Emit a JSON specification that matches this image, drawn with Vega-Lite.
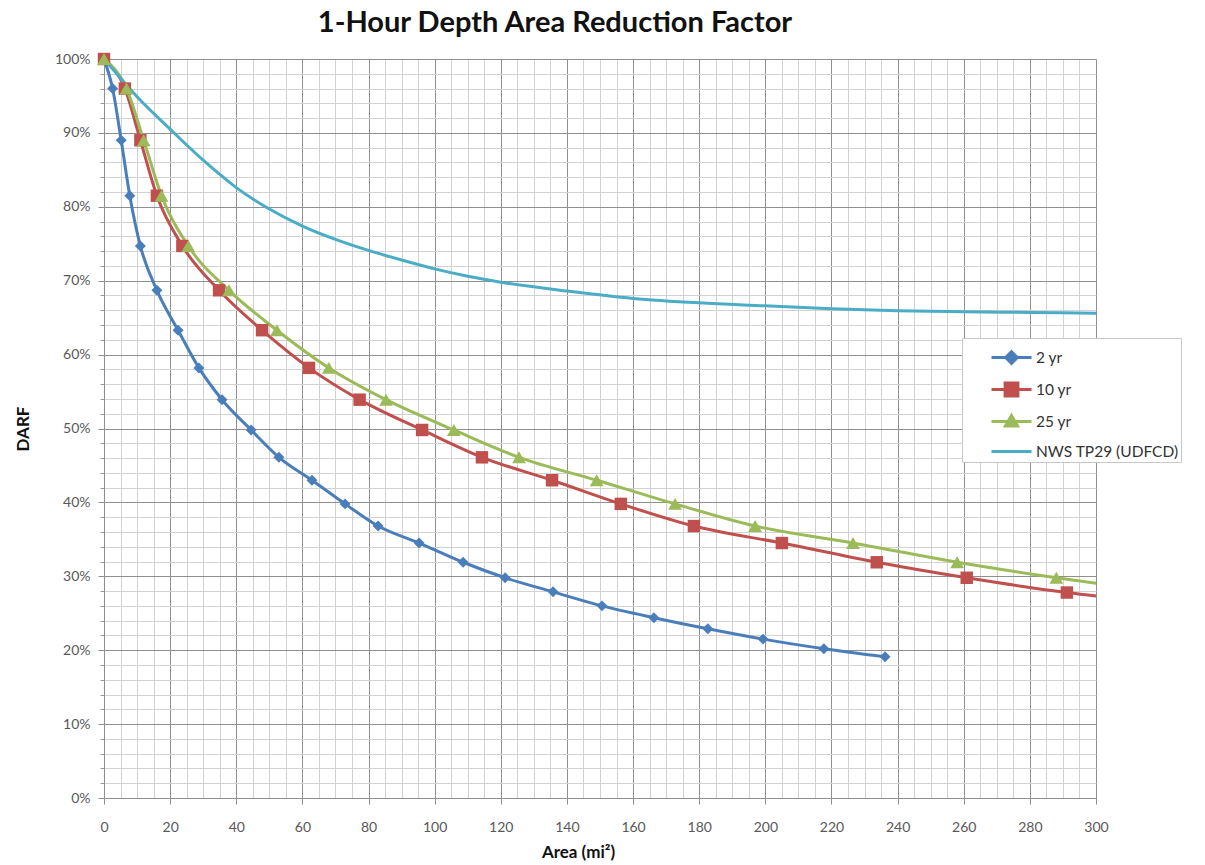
{
  "$schema": "https://vega.github.io/schema/vega-lite/v6.json",
  "width": 992,
  "height": 739,
  "autosize": {"type": "none"},
  "padding": {"left": 104, "top": 59, "right": 109, "bottom": 67},
  "background": "white",
  "config": {
    "font": "Lato",
    "view": {"stroke": null},
    "axis": {"labelFont": "Lato", "titleFont": "Lato", "labelFlush": false}
  },
  "title": {
    "text": "1-Hour Depth Area Reduction Factor",
    "font": "Lato",
    "fontSize": 29,
    "fontWeight": "bold",
    "color": "#111111",
    "anchor": "middle",
    "dx": -45,
    "offset": 14
  },
  "data": {
    "values": [
      {"series": "2 yr", "area": 0, "darf": 1.0},
      {"series": "2 yr", "area": 2.6, "darf": 0.96},
      {"series": "2 yr", "area": 5.2, "darf": 0.89},
      {"series": "2 yr", "area": 7.8, "darf": 0.815},
      {"series": "2 yr", "area": 11.0, "darf": 0.747},
      {"series": "2 yr", "area": 16.0, "darf": 0.687},
      {"series": "2 yr", "area": 22.4, "darf": 0.633},
      {"series": "2 yr", "area": 28.7, "darf": 0.582},
      {"series": "2 yr", "area": 35.7, "darf": 0.539},
      {"series": "2 yr", "area": 44.5, "darf": 0.498},
      {"series": "2 yr", "area": 52.9, "darf": 0.461},
      {"series": "2 yr", "area": 62.9, "darf": 0.43},
      {"series": "2 yr", "area": 72.9, "darf": 0.398},
      {"series": "2 yr", "area": 82.9, "darf": 0.368},
      {"series": "2 yr", "area": 95.3, "darf": 0.345},
      {"series": "2 yr", "area": 108.6, "darf": 0.319},
      {"series": "2 yr", "area": 121.3, "darf": 0.298},
      {"series": "2 yr", "area": 135.8, "darf": 0.279},
      {"series": "2 yr", "area": 150.6, "darf": 0.26},
      {"series": "2 yr", "area": 166.3, "darf": 0.244},
      {"series": "2 yr", "area": 182.6, "darf": 0.229},
      {"series": "2 yr", "area": 199.3, "darf": 0.215},
      {"series": "2 yr", "area": 217.7, "darf": 0.202},
      {"series": "2 yr", "area": 236.2, "darf": 0.191},
      {"series": "10 yr", "area": 0, "darf": 1.0},
      {"series": "10 yr", "area": 6.3, "darf": 0.96},
      {"series": "10 yr", "area": 11.0, "darf": 0.89},
      {"series": "10 yr", "area": 16.0, "darf": 0.815},
      {"series": "10 yr", "area": 23.7, "darf": 0.747},
      {"series": "10 yr", "area": 34.8, "darf": 0.687},
      {"series": "10 yr", "area": 47.8, "darf": 0.633},
      {"series": "10 yr", "area": 62.0, "darf": 0.582},
      {"series": "10 yr", "area": 77.3, "darf": 0.539},
      {"series": "10 yr", "area": 96.2, "darf": 0.498},
      {"series": "10 yr", "area": 114.3, "darf": 0.461},
      {"series": "10 yr", "area": 135.5, "darf": 0.43},
      {"series": "10 yr", "area": 156.3, "darf": 0.398},
      {"series": "10 yr", "area": 178.4, "darf": 0.368},
      {"series": "10 yr", "area": 205.0, "darf": 0.345},
      {"series": "10 yr", "area": 233.7, "darf": 0.319},
      {"series": "10 yr", "area": 260.9, "darf": 0.298},
      {"series": "10 yr", "area": 291.2, "darf": 0.278},
      {"series": "10 yr", "area": 330, "darf": 0.26},
      {"series": "25 yr", "area": 0, "darf": 1.0},
      {"series": "25 yr", "area": 6.8, "darf": 0.96},
      {"series": "25 yr", "area": 12.0, "darf": 0.89},
      {"series": "25 yr", "area": 17.4, "darf": 0.815},
      {"series": "25 yr", "area": 25.5, "darf": 0.747},
      {"series": "25 yr", "area": 37.8, "darf": 0.687},
      {"series": "25 yr", "area": 52.3, "darf": 0.633},
      {"series": "25 yr", "area": 68.0, "darf": 0.582},
      {"series": "25 yr", "area": 85.3, "darf": 0.539},
      {"series": "25 yr", "area": 105.8, "darf": 0.498},
      {"series": "25 yr", "area": 125.5, "darf": 0.461},
      {"series": "25 yr", "area": 149.0, "darf": 0.43},
      {"series": "25 yr", "area": 172.7, "darf": 0.398},
      {"series": "25 yr", "area": 196.9, "darf": 0.368},
      {"series": "25 yr", "area": 226.5, "darf": 0.345},
      {"series": "25 yr", "area": 258.0, "darf": 0.319},
      {"series": "25 yr", "area": 288.0, "darf": 0.298},
      {"series": "25 yr", "area": 320, "darf": 0.278},
      {"series": "NWS TP29 (UDFCD)", "area": 0, "darf": 1.0},
      {"series": "NWS TP29 (UDFCD)", "area": 5, "darf": 0.974},
      {"series": "NWS TP29 (UDFCD)", "area": 10, "darf": 0.949},
      {"series": "NWS TP29 (UDFCD)", "area": 20, "darf": 0.905},
      {"series": "NWS TP29 (UDFCD)", "area": 30, "darf": 0.863},
      {"series": "NWS TP29 (UDFCD)", "area": 40, "darf": 0.826},
      {"series": "NWS TP29 (UDFCD)", "area": 50, "darf": 0.797},
      {"series": "NWS TP29 (UDFCD)", "area": 60, "darf": 0.774},
      {"series": "NWS TP29 (UDFCD)", "area": 70, "darf": 0.756},
      {"series": "NWS TP29 (UDFCD)", "area": 80, "darf": 0.741},
      {"series": "NWS TP29 (UDFCD)", "area": 90, "darf": 0.728},
      {"series": "NWS TP29 (UDFCD)", "area": 100, "darf": 0.716},
      {"series": "NWS TP29 (UDFCD)", "area": 110, "darf": 0.706},
      {"series": "NWS TP29 (UDFCD)", "area": 120, "darf": 0.698},
      {"series": "NWS TP29 (UDFCD)", "area": 140, "darf": 0.686},
      {"series": "NWS TP29 (UDFCD)", "area": 160, "darf": 0.676},
      {"series": "NWS TP29 (UDFCD)", "area": 180, "darf": 0.67},
      {"series": "NWS TP29 (UDFCD)", "area": 200, "darf": 0.666},
      {"series": "NWS TP29 (UDFCD)", "area": 220, "darf": 0.662},
      {"series": "NWS TP29 (UDFCD)", "area": 240, "darf": 0.6595},
      {"series": "NWS TP29 (UDFCD)", "area": 260, "darf": 0.658},
      {"series": "NWS TP29 (UDFCD)", "area": 280, "darf": 0.657},
      {"series": "NWS TP29 (UDFCD)", "area": 300, "darf": 0.656}
    ]
  },
  "layer": [
    {
      "mark": {"type": "line", "interpolate": "monotone", "strokeWidth": 3, "clip": true},
      "encoding": {
        "x": {
          "field": "area", "type": "quantitative",
          "scale": {"domain": [0, 300], "nice": false, "zero": false},
          "axis": {
            "orient": "bottom",
            "values": [5,10,15,25,30,35,45,50,55,65,70,75,85,90,95,105,110,115,125,130,135,145,150,155,165,170,175,185,190,195,205,210,215,225,230,235,245,250,255,265,270,275,285,290,295],
            "grid": true, "gridColor": "#d2d2d2", "gridWidth": 1,
            "labels": false, "ticks": false, "domain": false, "title": null
          }
        },
        "y": {
          "field": "darf", "type": "quantitative",
          "scale": {"domain": [0, 1], "nice": false},
          "axis": {
            "orient": "left",
            "values": [0.02,0.04,0.06,0.08,0.12,0.14,0.16,0.18,0.22,0.24,0.26,0.28,0.32,0.34,0.36,0.38,0.42,0.44,0.46,0.48,0.52,0.54,0.56,0.58,0.62,0.64,0.66,0.68,0.72,0.74,0.76,0.78,0.82,0.84,0.86,0.88,0.92,0.94,0.96,0.98],
            "grid": true, "gridColor": "#d2d2d2", "gridWidth": 1,
            "labels": false, "ticks": true, "tickSize": 4, "tickColor": "#999999", "domain": false, "title": null
          }
        },
        "color": {
          "field": "series", "type": "nominal",
          "scale": {
            "domain": ["2 yr", "10 yr", "25 yr", "NWS TP29 (UDFCD)"],
            "range": ["#4A7EBB", "#C0504D", "#9BBB59", "#4BACC6"]
          },
          "legend": {
            "orient": "none",
            "legendX": 858,
            "legendY": 279,
            "title": null,
            "fillColor": "white",
            "strokeColor": "#c8c8c8",
            "padding": 2,
            "symbolOffset": 30,
            "symbolSize": 1024,
            "symbolStrokeWidth": 3,
            "rowPadding": 2,
            "labelOffset": 7,
            "labelFont": "Lato",
            "labelFontSize": 15.5,
            "labelColor": "#333333",
            "labelLimit": 300,
            "encode": {
              "symbols": {
                "update": {
                  "shape": {"signal": "datum.value === '2 yr' ? 'M-1.25,0L1.25,0M0,-0.36L0.36,0L0,0.36L-0.36,0Z' : datum.value === '10 yr' ? 'M-1.25,0L1.25,0M-0.4,-0.4L0.4,-0.4L0.4,0.4L-0.4,0.4Z' : datum.value === '25 yr' ? 'M-1.25,0L1.25,0M0,-0.38L0.38,0.28L-0.38,0.28Z' : 'M-1.25,0L1.25,0'"},
                  "fill": {"scale": "color", "field": "value"},
                  "stroke": {"scale": "color", "field": "value"},
                  "strokeWidth": {"value": 3},
                  "opacity": {"value": 1},
                  "fillOpacity": {"value": 1}
                }
              }
            }
          }
        }
      }
    },
    {
      "transform": [
        {"filter": "datum.series !== 'NWS TP29 (UDFCD)' && datum.area <= 300"}
      ],
      "mark": {"type": "point", "filled": true, "opacity": 1},
      "encoding": {
        "x": {
          "field": "area", "type": "quantitative",
          "axis": {
            "orient": "bottom",
            "values": [0,20,40,60,80,100,120,140,160,180,200,220,240,260,280,300],
            "grid": true, "gridColor": "#8f8f8f", "gridWidth": 1,
            "domain": true, "domainColor": "#8f8f8f",
            "ticks": true, "tickColor": "#8f8f8f", "tickSize": 6,
            "labelFlush": false,
            "labelFontSize": 14, "labelColor": "#595959", "labelPadding": 16,
            "title": "Area (mi²)", "titleFontSize": 17, "titleFontWeight": "bold",
            "titleColor": "#111111", "titlePadding": 10, "titleX": 474, "titleAlign": "center"
          }
        },
        "y": {
          "field": "darf", "type": "quantitative",
          "axis": {
            "orient": "left",
            "values": [0,0.1,0.2,0.3,0.4,0.5,0.6,0.7,0.8,0.9,1.0],
            "format": ".0%",
            "grid": true, "gridColor": "#8f8f8f", "gridWidth": 1,
            "domain": true, "domainColor": "#8f8f8f",
            "ticks": true, "tickColor": "#8f8f8f", "tickSize": 6,
            "labelFlush": false,
            "labelFontSize": 14, "labelColor": "#595959", "labelPadding": 8,
            "title": "DARF", "titleFontSize": 17, "titleFontWeight": "bold",
            "titleColor": "#111111", "titlePadding": 22
          }
        },
        "color": {"field": "series", "type": "nominal", "legend": null},
        "shape": {
          "field": "series", "type": "nominal",
          "scale": {"domain": ["2 yr", "10 yr", "25 yr"], "range": ["diamond", "square", "triangle-up"]},
          "legend": null
        },
        "size": {
          "field": "series", "type": "nominal",
          "scale": {"domain": ["2 yr", "10 yr", "25 yr"], "range": [120, 190, 150]},
          "legend": null
        }
      }
    }
  ],
  "resolve": {"axis": {"x": "independent", "y": "independent"}}
}
